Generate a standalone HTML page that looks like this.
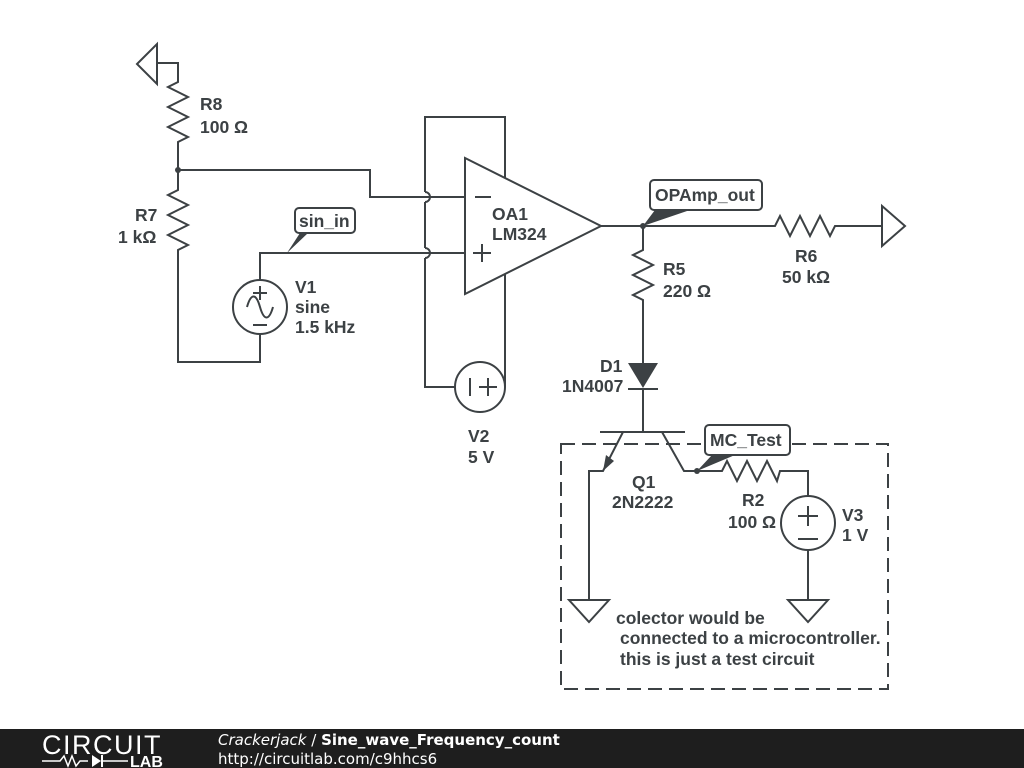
<!DOCTYPE html>
<html><head><style>
body{margin:0;background:#fff}
svg{display:block}
text{font-family:"Liberation Sans",sans-serif;font-weight:bold;font-size:17.5px;fill:#3c4144}
</style></head><body>
<svg width="1024" height="768" viewBox="0 0 1024 768">
<g fill="none" stroke="#3c4144" stroke-width="2">
<polygon points="137,64 157,44 157,84"/>
<polyline points="157,63 178,63 178,82 168,87 188,97 168,107 188,117 168,127 188,137 178,142 178,190 168,195 188,205 168,215 188,225 168,235 188,245 178,250 178,362 260,362 260,334"/>
<polyline points="178,170 370,170 370,197 465,197"/>
<circle cx="260" cy="307" r="27"/>
<path d="M247,307 c4,-14 9,-14 13,0 c4,14 9,14 13,0"/>
<polyline points="260,280 260,253 465,253"/>
<polygon points="465,158 465,294 601,226"/>
<polyline points="425,192 425,117 505,117 505,178"/>
<path d="M425,192 a5,5 0 0 1 0,10"/>
<line x1="425" y1="202" x2="425" y2="248"/>
<path d="M425,248 a5,5 0 0 1 0,10"/>
<polyline points="425,258 425,387 455,387"/>
<polyline points="505,274 505,387"/>
<circle cx="480" cy="387" r="25" fill="#fff"/>
<polyline points="601,226 775,226 780,216 790,236 800,216 810,236 820,216 830,236 835,226 882,226"/>
<polygon points="882,206 882,246 905,226"/>
<polyline points="643,226 643,250 633,255 653,265 633,275 653,285 633,295 643,300 643,363"/>
<line x1="628" y1="389" x2="658" y2="389"/>
<line x1="643" y1="389" x2="643" y2="432"/>
<line x1="600" y1="432" x2="685" y2="432"/>
<polyline points="623,432 603,471 589,471 589,600"/>
<polyline points="662,432 684,471 722,471 727,461 737,481 747,461 757,481 767,461 777,481 780,471 808,471 808,496"/>
<circle cx="808" cy="523" r="27"/>
<line x1="808" y1="550" x2="808" y2="600"/>
<polygon points="569,600 609,600 589,622"/>
<polygon points="788,600 828,600 808,622"/>
<rect x="561" y="444" width="327" height="245" stroke-dasharray="14,7"/>
<line x1="475" y1="197" x2="491" y2="197"/>
<line x1="473" y1="253" x2="491" y2="253"/><line x1="482" y1="244" x2="482" y2="262"/>
<line x1="253" y1="293" x2="267" y2="293"/><line x1="260" y1="286" x2="260" y2="300"/>
<line x1="253" y1="325" x2="267" y2="325"/>
<line x1="470" y1="378" x2="470" y2="396"/>
<line x1="479" y1="387" x2="497" y2="387"/><line x1="488" y1="378" x2="488" y2="396"/>
<line x1="798" y1="516" x2="818" y2="516"/><line x1="808" y1="506" x2="808" y2="526"/>
<line x1="798" y1="539" x2="818" y2="539"/>
<rect x="295" y="208" width="60" height="25" rx="4" fill="#fff"/>
<rect x="650" y="180" width="112" height="30" rx="4" fill="#fff"/>
<rect x="705" y="425" width="85" height="30" rx="4" fill="#fff"/>
</g>
<g fill="#3c4144">
<polygon points="628,363 658,363 643,388"/>
<polygon points="603,471 606,455 614,461"/>
<circle cx="178" cy="170" r="3"/><circle cx="643" cy="226" r="3"/><circle cx="697" cy="471" r="3"/>
<polygon points="287,253 300,233 308,233"/>
<polygon points="643,226 655,210 690,210"/>
<polygon points="697,471 712,455 735,455"/>
</g>
<text x="200" y="110">R8</text><text x="200" y="133">100 Ω</text>
<text x="135" y="221">R7</text><text x="118" y="243">1 kΩ</text>
<text x="299" y="227">sin_in</text>
<text x="295" y="293">V1</text><text x="295" y="313">sine</text><text x="295" y="333">1.5 kHz</text>
<text x="492" y="220">OA1</text><text x="492" y="240">LM324</text>
<text x="468" y="442">V2</text><text x="468" y="463">5 V</text>
<text x="655" y="201">OPAmp_out</text>
<text x="663" y="275">R5</text><text x="663" y="297">220 Ω</text>
<text x="795" y="262">R6</text><text x="782" y="283">50 kΩ</text>
<text x="600" y="372">D1</text><text x="562" y="392">1N4007</text>
<text x="710" y="446">MC_Test</text>
<text x="632" y="488">Q1</text><text x="612" y="508">2N2222</text>
<text x="742" y="506">R2</text><text x="728" y="528">100 Ω</text>
<text x="842" y="521">V3</text><text x="842" y="541">1 V</text>
<text x="616" y="624">colector would be</text>
<text x="620" y="644">connected to a microcontroller.</text>
<text x="620" y="665">this is just a test circuit</text>
<rect x="0" y="729" width="1024" height="39" fill="#1e1e1e"/>
<text x="42" y="754" style="font-weight:normal;font-size:27px;fill:#fff;letter-spacing:1.5px">CIRCUIT</text>
<polyline points="42,761 60,761 64,756 68,766 72,756 76,766 80,761 88,761" fill="none" stroke="#fff" stroke-width="1.5"/>
<polygon points="92,755 92,767 101,761" fill="#fff"/><line x1="102" y1="755" x2="102" y2="767" stroke="#fff" stroke-width="2"/>
<line x1="102" y1="761" x2="128" y2="761" stroke="#fff" stroke-width="1.5"/>
<text x="130" y="767" style="font-size:16px;fill:#fff">LAB</text>
<text x="218" y="745" style="font-family:'DejaVu Sans',sans-serif;font-size:15px;fill:#fff"><tspan style="font-style:italic;font-weight:normal">Crackerjack</tspan><tspan style="font-weight:normal"> / </tspan>Sine_wave_Frequency_count</text>
<text x="218" y="764" style="font-family:'DejaVu Sans',sans-serif;font-size:15px;fill:#fff;font-weight:normal">http://circuitlab.com/c9hhcs6</text>
</svg>
</body></html>
